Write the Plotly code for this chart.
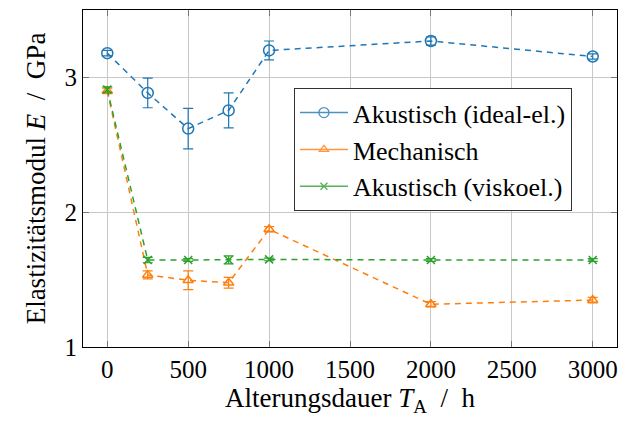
import plotly.graph_objects as go

hours = [0, 250, 500, 750, 1000, 2000, 3000]
ak_ideal = [3.18, 2.885, 2.62, 2.755, 3.20, 3.27, 3.155]
ak_ideal_err = [0.02, 0.11, 0.15, 0.13, 0.07, 0.03, 0.02]
mech = [2.90, 1.535, 1.495, 1.477, 1.873, 1.317, 1.348]
mech_err = [0.02, 0.03, 0.07, 0.04, 0.02, 0.02, 0.02]
ak_visko = [2.91, 1.645, 1.645, 1.646, 1.65, 1.645, 1.645]
ak_visko_err = [0.02, 0.02, 0.01, 0.03, 0.01, 0.01, 0.01]

names = ["Akustisch (ideal-el.)", "Mechanisch", "Akustisch (viskoel.)"]
colors = ["#1f77b4", "#ff7f0e", "#2ca02c"]
symbols = ["circle-open", "triangle-up-open", "x-thin-open"]
sizes = [11, 9, 8]
series = [(ak_ideal, ak_ideal_err), (mech, mech_err), (ak_visko, ak_visko_err)]

FONT = "Liberation Serif"
fig = go.Figure()
for (vals, err), name, c, s, sz in zip(series, names, colors, symbols, sizes):
    fig.add_trace(go.Scatter(
        x=hours, y=vals, mode="lines+markers", showlegend=False,
        line=dict(color=c, width=1.5, dash="6px,5px"),
        marker=dict(symbol=s, size=sz, color=c, line=dict(color=c, width=1.5)),
        error_y=dict(type="data", array=err, color=c, thickness=1.2, width=5),
    ))
for name, c, s, sz in zip(names, colors, symbols, sizes):
    fig.add_trace(go.Scatter(
        x=[None], y=[None], mode="lines+markers", name=name,
        line=dict(color=c, width=1.5), opacity=0.8,
        marker=dict(symbol=s, size=sz - 1, color=c, line=dict(color=c, width=1.3)),
    ))

axis_common = dict(
    showgrid=True, gridcolor="#c8c8c8", gridwidth=1,
    showline=True, linecolor="black", linewidth=1.2, mirror="ticks",
    ticks="inside", ticklen=6, tickcolor="#777777", zeroline=False,
    tickfont=dict(family=FONT, size=25, color="black"),
)
fig.update_xaxes(range=[-150, 3150], tickvals=[0, 500, 1000, 1500, 2000, 2500, 3000],
                 title=dict(text="Alterungsdauer <i>T</i><sub>A</sub>  /  h",
                            font=dict(family=FONT, size=27, color="black"), standoff=6),
                 **axis_common)
fig.update_yaxes(range=[1, 3.5], tickvals=[1, 2, 3],
                 title=dict(text="Elastizitätsmodul <i>E</i>  /  GPa",
                            font=dict(family=FONT, size=27, color="black"), standoff=10),
                 **axis_common)
fig.update_layout(
    width=630, height=421,
    margin=dict(l=83, r=13, t=10, b=74),
    paper_bgcolor="white", plot_bgcolor="white",
    font=dict(family=FONT, color="black"),
    legend=dict(x=0.395, y=0.768, xanchor="left", yanchor="top",
                bgcolor="white", bordercolor="#333333", borderwidth=1,
                font=dict(family=FONT, size=26, color="black"),
                tracegroupgap=0, itemwidth=48),
)
fig.write_html("out.html")
